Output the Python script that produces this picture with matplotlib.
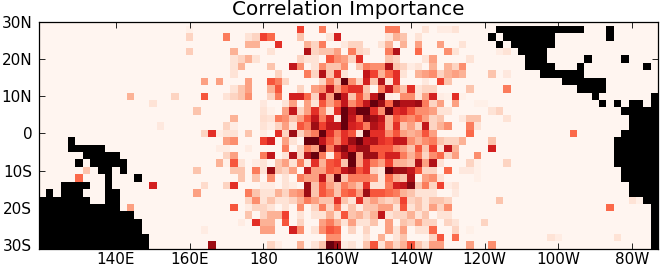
import numpy as np
import matplotlib
matplotlib.use("Agg")
import matplotlib.pyplot as plt

title = "Correlation Importance"
lons = np.arange(120, 288, 2)
lats = np.arange(30, -32, -2)
x_ticks = [140, 160, 180, 200, 220, 240, 260, 280]
x_labels = ["140E", "160E", "180", "160W", "140W", "120W", "100W", "80W"]
y_ticks = [30, 20, 10, 0, -10, -20, -30]
y_labels = ["30N", "20N", "10N", "0", "10S", "20S", "30S"]

# importance per latitude row, keyed by column number (lon = 120 + 2*column)
p28 = {20:.3,35:5.5,38:4,47:4,48:4,52:1,54:.5,55:.5,56:1}
p26 = {20:1.5,25:4,28:1,29:1.5,30:5.5,31:4.5,35:2,39:1,40:6.5,47:1,48:2.5,49:2,51:1}
p24 = {28:2.5,29:2.5,32:6,36:2.5,37:1.5,38:4,41:.7,42:1.5,43:1.5,46:1,47:2.5,49:2.5,51:3,54:3,57:1}
p22 = {20:1.7,26:2.5,31:1,36:7.5,37:1.5,38:2,39:2,40:3,42:4,43:1.5,44:1.2,47:4,48:7.5,51:4.5,55:3.5,56:1,62:.5,63:1}
p20 = {26:1,27:1.5,28:2.5,29:1,35:1.5,36:1,37:1,39:5,40:3.5,41:3,42:1.5,43:6,47:2,48:1.5,52:1,53:3,58:1}
p18 = {26:1,27:2.5,31:2,34:7,35:3.5,37:1,38:3.5,39:2,40:2,41:3.5,43:2,44:4,45:3.5,46:3.5,47:7.5,48:2,49:1.5,50:.5,51:1,53:2.5,55:2.5,56:1.5,57:3.5}
p16 = {26:1,32:1.5,36:4,37:1.5,38:7.5,39:2,40:6,41:1,44:7,45:5.5,46:2.5,47:4.5,48:6,49:1,51:2.5,52:3,53:3.5,54:1.5,55:2.5,56:3,57:2.5,61:2,63:.7}
p14 = {22:3,24:3,28:3,31:5,32:4,33:1.5,38:1.5,39:4,40:2,41:10,42:3.5,43:1.5,44:6.5,45:2,46:7.5,47:1,48:6,52:.7,54:5.5,55:2}
p12 = {26:1,27:2,28:3,31:2.5,32:5,35:1.5,37:3,38:3.5,39:7,40:3,41:5,42:6,43:6,44:2,46:4,47:7,48:3.5,49:2,50:6,51:1,52:1.5,53:1.5,58:2,63:4}
p10 = {12:2.5,18:1.5,22:5,25:1,26:1.5,27:2,28:3.5,31:1.5,32:4,34:6.5,35:6.5,36:4.5,37:1.5,38:7,39:3,40:10,41:7,42:2,43:5,44:2.5,45:7,46:9,47:.5,48:.3,49:3.5,50:3.5,51:1,52:3,53:6.5,54:.5,55:.3,56:6,57:.3}
p8 = {15:1,30:.7,33:1,34:3,36:3,37:1,38:5,39:3,40:4.5,41:7,42:3.5,43:5,44:7,45:9.5,46:8,47:4.5,48:8.5,49:7.5,50:7.5,51:8,52:4,53:1.5,54:3,56:3,59:.3,60:.3}
p6 = {21:2,30:1,31:.3,33:3,34:7,35:1.5,36:3,37:6,38:3.5,39:1,40:6,41:9.5,42:7.5,43:10,44:9,45:6,46:3.5,47:9,48:6,49:6.5,50:5,51:3.5,52:3.5,53:3,54:1,55:1,61:1,62:1.5}
p4 = {26:2.5,30:1.2,31:1,32:4,33:3.5,34:2,35:3,36:5,37:7,38:4,39:6.5,40:.7,41:9,42:7,43:4.5,44:8.5,45:8,46:7,47:2.5,48:5,49:4,50:3.5,51:4.5,52:3,53:1.5,54:2,57:.7,58:2,59:2,63:1}
p2 = {16:.7,25:1.5,26:.5,30:1,31:.5,32:1.5,33:3,34:1,35:5,36:4,37:8,38:5.5,39:7,40:7,41:9.5,42:6.5,43:6,44:4,45:7.5,46:6.5,47:2.5,48:6,49:2,50:3,51:1.5,52:7,53:1.5,54:2.5,55:3.5,58:4,59:1}
z0 = {22:1.5,23:6,24:.5,25:1,26:1,28:2,30:.5,32:6,33:1.5,34:8,35:1.5,36:3,37:4,38:10,39:6,40:4,41:6,42:5,43:1,44:9,45:6,46:6,47:3.5,48:5,49:3,50:2.5,51:3,52:5,53:3,58:4.5,72:4.5}
m2 = {25:3,26:3.5,30:5.5,31:6.5,33:3,34:1,36:9,37:9,38:7,39:5,40:3.5,41:6,42:8,43:9.5,44:7,45:7.5,46:6,47:5.5,48:7,49:7,50:3.5,51:2.5,52:3.5,53:4,54:2,55:1.5,56:1.5,57:2.5,61:2}
m4 = {24:.5,25:.5,28:.5,33:4,35:1.5,36:4,37:3,38:9.5,39:4,40:7.5,41:8.5,42:6.5,43:8,44:8,45:5,46:5,47:5,48:3.5,49:3,50:2,51:5,52:2,53:5.5,54:1,55:7,56:2.5,61:6.5}
m6 = {25:1.5,26:3,30:4,31:7,33:1,34:7.5,35:1.5,36:7.5,37:9,38:4,39:.5,40:5,41:7.5,42:10,43:3,44:8,45:8,46:5,47:6.5,48:6.5,49:4,50:2.5,51:4,52:1.5,53:3.5,54:4.5,55:1.5,56:3,59:3.5}
m8 = {24:2.5,25:.3,26:5,27:1,29:.5,30:1,32:2,33:3,34:1,35:4,36:1,37:6,38:2.5,39:5,40:5.5,41:2,42:9.5,43:3,44:6,45:4,46:3,47:5.5,48:2.5,49:2.5,50:2,51:7.5,52:3,53:7.5,54:1,58:1.5,59:.3,63:1.5}
m10 = {6:2,21:2,26:2,27:2,29:4,30:1,31:8,32:2,33:1.5,34:3,36:7,37:3,38:3,39:5,40:4.5,41:7,42:8,43:5,44:6,45:1.5,46:1,47:10,48:8,49:8,50:7,51:5,52:1.5,53:1.5,55:4.5,57:.7,58:.7,59:.3}
m12 = {5:4.5,27:2,29:2,31:3.5,33:1,35:4,36:3,37:3,38:7,39:2.5,40:10,41:2,42:4,43:4,44:4,45:3.5,46:1,47:4.5,48:2.5,49:2,50:7.5,51:.3,52:3,53:3.5,54:1,59:.3}
m14 = {15:6.5,22:1.3,25:1.5,26:6,30:.5,31:.5,33:1,34:.5,36:8,37:2,38:5,39:3,40:2,41:4,42:3,43:2,44:6,45:1,46:1,47:4,48:6.5,49:7,50:8.5,51:2,52:4,53:1.5,54:5.5,55:.5,56:1}
m16 = {21:3,28:4,29:2,30:1,31:1,32:2.5,33:1.5,34:3,35:3.5,36:8,37:2,38:5,39:4,40:2,41:4.5,42:5,43:3,44:8,45:5,46:5,47:4.5,48:4,49:2.5,50:2,51:1,52:1,53:1,56:.7}
m18 = {28:1.5,29:3.5,30:1,31:2,32:1,33:1,34:1.5,35:2.5,36:4,37:3,38:2,39:2,40:6,41:2,42:1,43:6,44:2,45:3,46:2,47:1.5,48:2,49:5.5,50:1.5,51:2,52:1,53:2,54:2,55:1.5,62:2,80:1,81:.3}
m20 = {12:3,26:5,28:.5,29:1.5,30:1.5,31:1,33:1,35:3.5,37:1.5,38:4,39:1.5,40:4,41:.5,42:2,43:.5,44:2,45:2,46:3,47:3,48:1,49:5,50:1,51:2,52:1,53:3,54:1.5,55:3.5,77:4.5}
m22 = {28:2,30:1.5,31:2.5,32:2.5,33:5.5,35:1,37:1,38:1,39:2.5,40:1,41:5,42:2,43:2.5,44:1.5,45:2.5,46:7,47:1,48:1.5,49:1.5,50:2.5,51:1,52:2,54:1,55:1}
m24 = {27:.5,29:6,30:2.5,31:2.5,33:5,35:1.5,38:3,39:4,40:2.5,41:1,42:3,43:1,44:1,45:2,47:3,49:2,50:1.5,51:3,52:1.5,53:1.5,55:1.5,56:1,60:1.5}
m26 = {22:.5,30:3,31:3,34:6.5,35:3.5,37:1,38:3.5,39:5,40:4.5,42:1.5,44:1.5,47:3,48:1,49:3,51:1,52:1,53:4.5,56:1.5,58:.3}
m28 = {39:3.5,40:3.5,44:1,46:2.5,48:1,49:2,53:1.5,54:5,56:4.5,69:1,70:.5,78:1}
m30 = {23:8,31:1.5,32:.5,35:2.5,37:1,38:2,39:10,40:8,41:.5,42:1,44:2,45:5,46:1,47:3,48:1.5,49:2.5,50:5,51:2,52:1,53:3,54:3,58:3,61:3.5}
p30 = {}
rows = [p30,p28,p26,p24,p22,p20,p18,p16,p14,p12,p10,p8,p6,p4,p2,z0,m2,m4,m6,m8,m10,m12,m14,m16,m18,m20,m22,m24,m26,m28,m30]

# land cells per latitude row, as (first column, last column)
land = {28:[(62,73),(77,77)],26:[(61,61),(63,69),(77,77)],24:[(62,62),(64,69)],22:[(65,68)],
        20:[(66,68),(74,74),(79,79)],18:[(66,69),(73,73),(82,82)],16:[(68,73)],14:[(71,76)],12:[(73,76)],
        10:[(75,75),(83,83)],8:[(76,76),(78,78),(80,81),(83,83)],6:[(79,83)],4:[(80,83)],2:[(80,83)],0:[(79,83)],
        -2:[(4,4),(78,83)],-4:[(4,8),(78,83)],-6:[(6,10),(78,83)],-8:[(5,5),(7,11),(78,83)],
        -10:[(8,9),(11,11),(79,83)],-12:[(9,9),(13,13),(79,83)],-14:[(3,6),(9,9),(80,83)],
        -16:[(1,1),(3,5),(9,10),(80,83)],-18:[(0,6),(9,10),(82,83)],-20:[(0,10),(83,83)],
        -22:[(0,12),(83,83)],-24:[(0,13),(83,83)],-26:[(0,13),(83,83)],-28:[(0,14),(83,83)],-30:[(0,14),(83,83)]}

grid = np.zeros((lats.size, lons.size))
for i, (lat, row) in enumerate(zip(lats, rows)):
    for col, val in row.items():
        grid[i, col] = val
    for a, b in land.get(int(lat), []):
        grid[i, a:b + 1] = np.nan

fig = plt.figure(figsize=(6.6, 2.67), dpi=100)
ax = fig.add_axes([38.5 / 660, 1 - 248.5 / 267, 619.5 / 660, 226.5 / 267])
cmap = matplotlib.colormaps["Reds"].copy()
cmap.set_bad("black")
ax.pcolormesh(lons, lats, np.ma.masked_invalid(grid), cmap=cmap, vmin=0, vmax=9, shading="nearest")
ax.set_xlim(119, 287)
ax.set_ylim(-31, 30)
ax.set_xticks(x_ticks, x_labels)
ax.set_yticks(y_ticks, y_labels)
ax.tick_params(direction="in", length=4, width=0.6, top=True, right=True, labelsize=11, pad=2.5)
ax.tick_params(axis="y", pad=4.5)
for s in ax.spines.values():
    s.set_linewidth(0.9)
ax.set_title(title, fontsize=14.4, pad=5)
fig.savefig("out.png", dpi=100)
